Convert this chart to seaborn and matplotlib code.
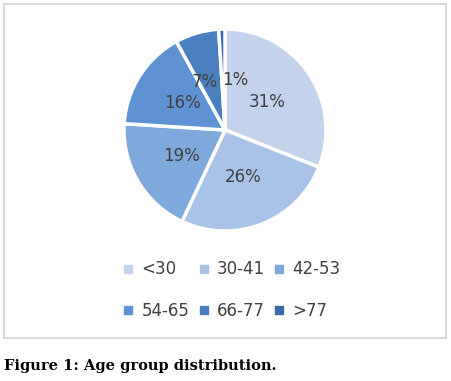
import matplotlib
matplotlib.use("Agg")
import matplotlib.pyplot as plt
import seaborn as sns
from matplotlib.lines import Line2D
from matplotlib.patches import Rectangle

# Age group shares (%)
groups = ["<30", "30-41", "42-53", "54-65", "66-77", ">77"]
shares = [31, 26, 19, 16, 7, 1]
colors = ["#C3D3EC", "#A9C3E6", "#7FA8DC", "#5E92D2", "#4A80C0", "#3A6CAA"]

sns.set_theme(style="white")
plt.rcParams["font.family"] = ["DejaVu Sans"]

W, H = 451, 381
fig = plt.figure(figsize=(W / 100, H / 100), dpi=100)

# pie axes placed in pixel terms
cx, cy, r = 225, 130, 101
lim = 1.05
half = r * lim
ax = fig.add_axes([(cx - half) / W, 1 - (cy + half) / H, 2 * half / W, 2 * half / H])

wedges, texts, autotexts = ax.pie(
    shares, colors=colors, startangle=90, counterclock=False,
    autopct=lambda p: f"{p:.0f}%", pctdistance=0.5,
    wedgeprops=dict(edgecolor="white", linewidth=2.5),
    textprops=dict(color="#404040", fontsize=12),
)
# the two smallest labels crowd each other; nudge them apart a little
x, y = autotexts[4].get_position()
autotexts[4].set_position((x - 0.06, y))
x, y = autotexts[5].get_position()
autotexts[5].set_position((x + 0.12, y))

ax.set_xlim(-lim, lim)
ax.set_ylim(-lim, lim)
ax.set_aspect("equal")
ax.axis("off")

# legend: fill row-wise (matplotlib fills column-wise, so reorder)
handles = [Line2D([], [], marker="s", linestyle="none", markersize=6,
                  markerfacecolor=c, markeredgecolor=c) for c in colors]
order = [0, 3, 1, 4, 2, 5]
fig.legend([handles[i] for i in order], [groups[i] for i in order],
           ncol=3, loc="center", bbox_to_anchor=(232 / W, 1 - 290 / H),
           frameon=False, fontsize=12, handlelength=0.6, handletextpad=0.5,
           columnspacing=0.55, labelspacing=1.4, labelcolor="#404040")

# chart frame
fig.add_artist(Rectangle((4 / W, 1 - 338 / H), 442 / W, 334 / H,
                         transform=fig.transFigure, fill=False,
                         edgecolor="#D9D9D9", linewidth=1.5))

fig.text(4 / W, 1 - 366 / H, "Figure 1: Age group distribution.",
         fontsize=10.5, fontweight="bold", family="DejaVu Serif",
         va="center", ha="left", color="black")

fig.savefig("out.png", dpi=100)
